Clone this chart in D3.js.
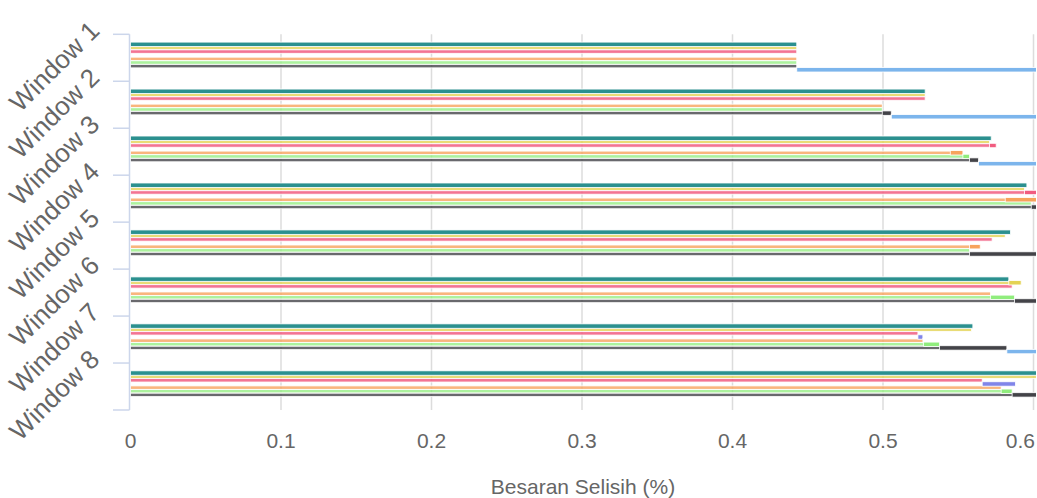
<!DOCTYPE html>
<html><head><meta charset="utf-8">
<script src="https://cdn.jsdelivr.net/npm/d3@7"></script>
<style>body{margin:0;background:#fff}svg{display:block}</style>
</head><body>
<svg id="chart" width="1037" height="498"></svg>
<script>
// ---- data ----
const categories = ["Window 1","Window 2","Window 3","Window 4","Window 5","Window 6","Window 7","Window 8"];
const seriesNames = ["Series 1","Series 2","Series 3","Series 4","Series 5","Series 6","Series 7","Series 8"];
const seriesColors = ["#2b908f","#e4d354","#f15c80","#8085e9","#f7a35c","#90ed7d","#434348","#7cb5ec"];
const lightOpacity = [0.9, 0.8, 0.85, 0, 0.8, 0.75, 0.8, 0];
const series1 = [0.4427, 0.528, 0.5719, 0.5956, 0.5847, 0.5836, 0.5597, 0.62];
const series2 = [0.4427, 0.528, 0.5708, 0.594, 0.5812, 0.5918, 0.5588, 0.61];
const series3 = [0.4427, 0.528, 0.5752, 0.61, 0.5725, 0.5858, 0.5232, 0.5659];
const series4 = [0.4427, 0.4995, 0.5447, 0.5812, 0.5575, 0.572, 0.5265, 0.588];
const series5 = [0.4427, 0.4995, 0.5531, 0.61, 0.5646, 0.5715, 0.527, 0.5785];
const series6 = [0.4427, 0.4995, 0.5575, 0.5985, 0.5575, 0.5874, 0.5376, 0.5858];
const series7 = [0.4427, 0.5055, 0.5635, 0.602, 0.63, 0.63, 0.5823, 0.62];
const series8 = [0.65, 0.65, 0.65, 0.65, 0.66, 0.66, 0.65, 0.66];
const seriesValues = [series1, series2, series3, series4, series5, series6, series7, series8];
const xTicks = [0, 0.1, 0.2, 0.3, 0.4, 0.5, 0.6];
const xTitle = "Besaran Selisih (%)";

// ---- layout ----
const svg = d3.select("#chart");
const FONT = "'Liberation Sans', Arial, sans-serif";
const x = d3.scaleLinear().domain([0, 0.6]).range([130.5, 1033.5]);
const y = d3.scaleBand().domain(categories).range([34.3, 410]);
const inner = d3.scalePoint().domain(seriesNames).range([10, 35.5]);

svg.append("defs").append("clipPath").attr("id", "plot")
  .append("rect").attr("x", 130).attr("y", 30).attr("width", 906).attr("height", 385);

// gridlines
svg.append("g").selectAll("line").data(xTicks.slice(1)).join("line")
  .attr("x1", d => x(d)).attr("x2", d => x(d))
  .attr("y1", 34.3).attr("y2", 410)
  .attr("stroke", "#dcdcdc").attr("stroke-width", 1.5);

// bars
const bars = svg.append("g").attr("clip-path", "url(#plot)");
const light = [], dark = [];
categories.forEach((c, i) => {
  seriesNames.forEach((s, k) => {
    const v = seriesValues[k][i];
    if (lightOpacity[k] > 0) light.push({c, s, k, x0: 0, x1: v});
    const prev = k === 0 ? 0 : seriesValues[k - 1][i];
    if (v > prev) dark.push({c, s, k, x0: prev, x1: v});
  });
});
bars.selectAll("rect.light").data(light).join("rect").attr("class", "light")
  .attr("x", d => x(d.x0)).attr("width", d => x(d.x1) - x(d.x0))
  .attr("y", d => y(d.c) + inner(d.s) - 1.7).attr("height", 3.4)
  .attr("fill", d => seriesColors[d.k]).attr("fill-opacity", d => lightOpacity[d.k])
  .attr("stroke", "#fff").attr("stroke-width", 0.8);
bars.selectAll("rect.dark").data(dark).join("rect").attr("class", "dark")
  .attr("x", d => x(d.x0)).attr("width", d => x(d.x1) - x(d.x0))
  .attr("y", d => y(d.c) + inner(d.s) - 2.2).attr("height", 4.4)
  .attr("fill", d => seriesColors[d.k])
  .attr("stroke", "#fff").attr("stroke-width", 0.8);

// category axis
const axisColor = "#ccd6eb";
svg.append("line").attr("x1", 129.5).attr("x2", 129.5).attr("y1", 34.3).attr("y2", 410)
  .attr("stroke", axisColor).attr("stroke-width", 1.5);
const bounds = categories.map(c => y(c)).concat([y.range()[1]]);
svg.append("g").selectAll("line").data(bounds).join("line")
  .attr("x1", 113).attr("x2", 129.5).attr("y1", d => d).attr("y2", d => d)
  .attr("stroke", axisColor).attr("stroke-width", 1.5);
svg.append("g").selectAll("text").data(categories).join("text")
  .attr("transform", d => `translate(101,${y(d) - 2}) rotate(-45)`)
  .attr("text-anchor", "end")
  .attr("font-family", FONT).attr("font-size", 26).attr("fill", "#666")
  .text(d => d);

// value axis labels
const tl = svg.append("g").selectAll("text").data(xTicks).join("text")
  .attr("x", d => x(d)).attr("y", 448)
  .attr("text-anchor", "middle")
  .attr("font-family", FONT).attr("font-size", 21).attr("fill", "#666")
  .text(d => d3.format("")(d));
tl.each(function() {
  const b = this.getBBox();
  if (b.x + b.width > 1035) this.setAttribute("x", +this.getAttribute("x") - (b.x + b.width - 1035));
});

svg.append("text").attr("x", 583).attr("y", 494).attr("text-anchor", "middle")
  .attr("font-family", FONT).attr("font-size", 21).attr("fill", "#666")
  .text(xTitle);
</script>
</body></html>
